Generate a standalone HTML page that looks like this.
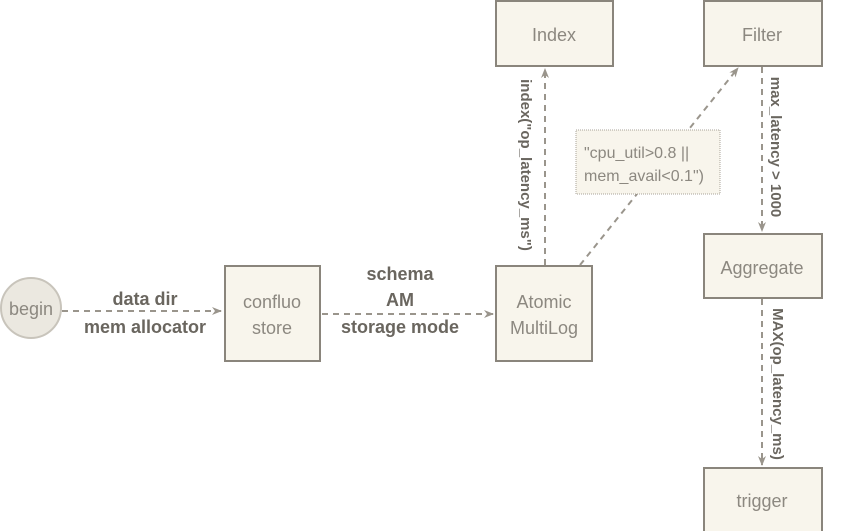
<!DOCTYPE html>
<html><head><meta charset="utf-8"><style>
html,body{margin:0;padding:0;background:#fff;}
svg{display:block;font-family:"Liberation Sans",sans-serif;}
</style></head><body>
<svg width="864" height="531" viewBox="0 0 864 531" xmlns="http://www.w3.org/2000/svg">
<defs>
<marker id="a" markerWidth="10" markerHeight="8" refX="9" refY="4" orient="auto" markerUnits="userSpaceOnUse">
<path d="M0,0 L10,4 L0,8 L3,4 z" fill="#9a958c"/></marker>
</defs>
<g fill="#f8f5ec" stroke="#8a857c" stroke-width="2">
<circle cx="31" cy="308" r="30" fill="#ebe8e0" stroke="#c8c4bb"/>
<rect x="225" y="266" width="95" height="95"/>
<rect x="496" y="266" width="96" height="95"/>
<rect x="496" y="1" width="117" height="65"/>
<rect x="704" y="1" width="118" height="65"/>
<rect x="704" y="234" width="118" height="64"/>
<rect x="704" y="468" width="118" height="70"/>
</g>
<g stroke="#9a958c" stroke-width="2" stroke-dasharray="6,5" fill="none" marker-end="url(#a)">
<line x1="62" y1="311" x2="221" y2="311"/>
<line x1="322" y1="314" x2="493" y2="314"/>
<line x1="545" y1="265" x2="545" y2="69"/>
<line x1="580" y1="265" x2="738" y2="68"/>
<line x1="762" y1="67" x2="762" y2="231"/>
<line x1="762" y1="299" x2="762" y2="465"/>
</g>
<rect x="576" y="130" width="144" height="64" fill="#f8f5ec" stroke="#a8a398" stroke-width="1" stroke-dasharray="1,1"/>
<g fill="#8c8880" font-size="18" text-anchor="middle">
<text x="31" y="315">begin</text>
<text x="272" y="308">confluo</text>
<text x="272" y="334">store</text>
<text x="544" y="308">Atomic</text>
<text x="544" y="334">MultiLog</text>
<text x="554" y="41">Index</text>
<text x="762" y="41">Filter</text>
<text x="762" y="274">Aggregate</text>
<text x="762" y="507">trigger</text>
</g>
<g fill="#8c8880" font-size="16">
<text x="584" y="158">"cpu_util&gt;0.8 ||</text>
<text x="584" y="181">mem_avail&lt;0.1")</text>
</g>
<g fill="#6a665f" font-size="18" font-weight="bold" text-anchor="middle">
<text x="145" y="305">data dir</text>
<text x="145" y="333">mem allocator</text>
<text x="400" y="280">schema</text>
<text x="400" y="306">AM</text>
<text x="400" y="333">storage mode</text>
</g>
<g fill="#6a665f" font-size="15" font-weight="bold" text-anchor="middle">
<text transform="translate(521,165) rotate(90)">index("op_latency_ms")</text>
<text transform="translate(771,147) rotate(90)">max_latency &gt; 1000</text>
<text transform="translate(773,384) rotate(90)">MAX(op_latency_ms)</text>
</g>
</svg>
</body></html>
